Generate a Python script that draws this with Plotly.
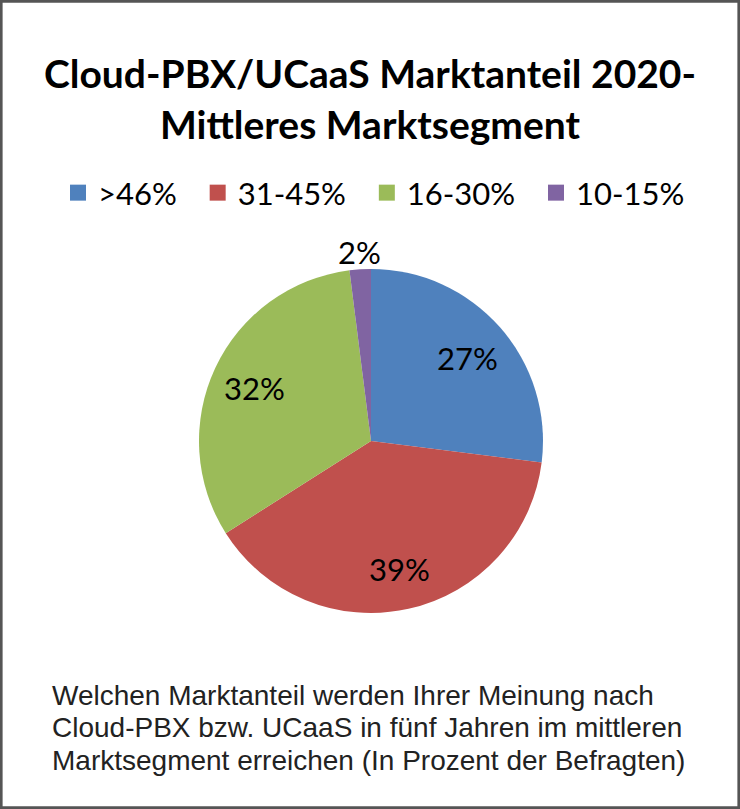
import math
import plotly.graph_objects as go

categories = [">46%", "31-45%", "16-30%", "10-15%"]
values = [27, 39, 32, 2]
colors = ["#4F81BD", "#C0504D", "#9BBB59", "#8064A2"]
title_text = "Cloud-PBX/UCaaS Marktanteil 2020-<br>Mittleres Marktsegment"
caption_lines = ["Welchen Marktanteil werden Ihrer Meinung nach",
                 "Cloud-PBX bzw. UCaaS in fünf Jahren im mittleren",
                 "Marktsegment erreichen (In Prozent der Befragten)"]

W, H = 740, 809
cx, cy, R = 371, 441, 172

fig = go.Figure()
fig.add_trace(go.Pie(
    labels=categories, values=values,
    marker=dict(colors=colors, line=dict(width=0)),
    sort=False, direction="clockwise", rotation=0,
    textinfo="none", showlegend=False, hoverinfo="label+percent",
    domain=dict(x=[(cx - R) / W, (cx + R) / W], y=[1 - (cy + R) / H, 1 - (cy - R) / H]),
))
for c, col in zip(categories, colors):
    fig.add_trace(go.Scatter(
        x=[None], y=[None], mode="markers", name=c + "\u00a0\u00a0",
        marker=dict(symbol="square", size=18, color=col),
        showlegend=True,
    ))

annotations = []
# slice labels placed on each slice's mid-angle (computed from the values)
total = sum(values)
cum = 0
for v in values:
    theta = 2 * math.pi * (cum + v / 2) / total
    cum += v
    frac = v / total
    r = 0.75 * R if frac > 0.05 else 1.11 * R
    px = cx + r * math.sin(theta)
    py = cy - r * math.cos(theta) + 2
    annotations.append(dict(text=f"{round(frac * 100)}%", x=px / W, y=1 - py / H,
                            xref="paper", yref="paper", xanchor="center", yanchor="middle",
                            showarrow=False, font=dict(family="Lato", size=31, color="#000000")))
for i, line in enumerate(caption_lines):
    annotations.append(dict(text=line, x=50 / W, xanchor="left", y=1 - (695 + 32.5 * i) / H,
                            yanchor="middle", xref="paper", yref="paper", showarrow=False,
                            align="left", font=dict(family="Liberation Sans", size=28, color="#222222")))

fig.update_layout(
    width=W, height=H,
    margin=dict(l=0, r=0, t=0, b=0),
    paper_bgcolor="white", plot_bgcolor="white",
    xaxis=dict(visible=False), yaxis=dict(visible=False),
    title=dict(text=title_text, x=0.5, xanchor="center", y=1 - 88 / H, yanchor="middle",
               font=dict(family="Lato", size=39, color="#000000", weight="bold")),
    legend=dict(orientation="h", x=58 / W, xanchor="left", y=1 - 193 / H, yanchor="middle",
                font=dict(family="Lato", size=31, color="#000000"),
                itemsizing="trace", bgcolor="rgba(0,0,0,0)"),
    annotations=annotations,
    shapes=[dict(type="rect", xref="paper", yref="paper", x0=0.0015, x1=0.9985, y0=0.0015, y1=0.9985,
                 line=dict(color="#555555", width=3))],
)
fig.write_html("out.html", config={"displayModeBar": False},
               post_script="document.body.style.margin='0';document.body.style.overflow='hidden';")
